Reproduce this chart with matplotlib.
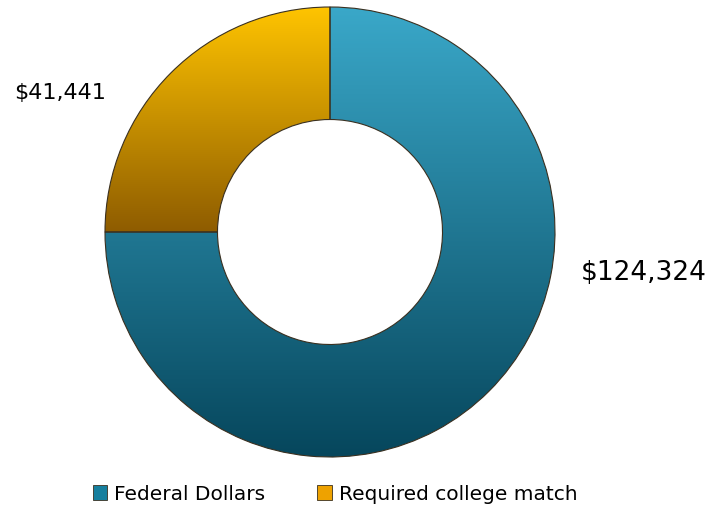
import numpy as np
import matplotlib
matplotlib.use('AGG')
import matplotlib.pyplot as plt
from matplotlib.colors import LinearSegmentedColormap
from matplotlib.patches import Patch

# data
labels = ["Federal Dollars", "Required college match"]
values = [124324, 41441]
value_labels = ["$124,324", "$41,441"]
top_colors = ["#3aa8c9", "#ffc400"]
bottom_colors = ["#06465c", "#8e5c00"]
flat_colors = ["#167f9e", "#eea200"]

W, H = 726, 507
cx, cy, R = 330, 232, 225.0

fig = plt.figure(figsize=(W / 100, H / 100), dpi=100)
ax = fig.add_axes([0, 0, 1, 1])
ax.axis('off')

wedges, _ = ax.pie(values, startangle=90, counterclock=False, radius=1.0,
                   colors=flat_colors,
                   wedgeprops=dict(width=0.5, edgecolor='#3a3020', linewidth=0.8))

# vertical gradient fill, one per wedge
for w, c_top, c_bot in zip(wedges, top_colors, bottom_colors):
    verts = w.get_path().vertices
    ymin, ymax = verts[:, 1].min(), verts[:, 1].max()
    cmap = LinearSegmentedColormap.from_list('g', [c_bot, c_top])
    grad = np.linspace(0, 1, 256).reshape(-1, 1)
    im = ax.imshow(grad, cmap=cmap, origin='lower', aspect='auto',
                   extent=[-1, 1, ymin, ymax], zorder=w.get_zorder())
    im.set_clip_path(w)
    w.set_facecolor('none')
    w.set_zorder(im.get_zorder() + 0.1)

ax.set_aspect('auto')
ax.set_xlim(-cx / R, (W - cx) / R)
ax.set_ylim(-(H - cy) / R, cy / R)

ax.text((644 - cx) / R, (cy - 273) / R, value_labels[0], fontsize=19,
        ha='center', va='center', color='black')
ax.text((60 - cx) / R, (cy - 93) / R, value_labels[1], fontsize=16,
        ha='center', va='center', color='black')

handles = [Patch(facecolor=c, edgecolor='#3a3020', linewidth=0.6) for c in flat_colors]
fig.legend(handles, labels, loc='center', bbox_to_anchor=(335 / W, 1 - 494 / H),
           ncol=2, frameon=False, fontsize=14.5, handlelength=0.7,
           handleheight=0.7, handletextpad=0.35, columnspacing=2.6)

fig.savefig('out.png', dpi=100)
